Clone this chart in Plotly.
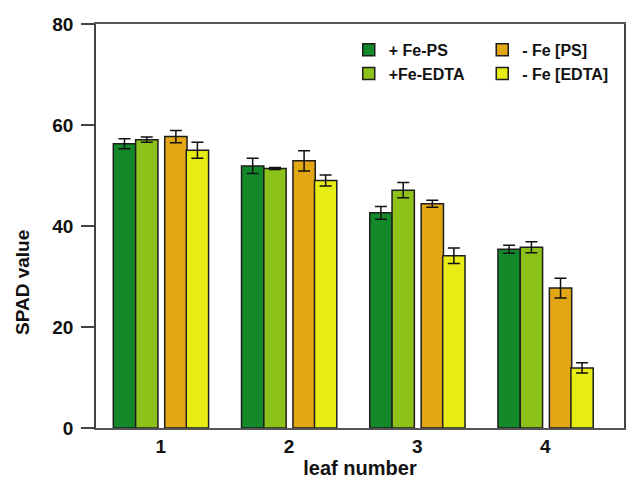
import plotly.graph_objects as go

leaves = ["1", "2", "3", "4"]
series_names = ["+ Fe-PS", "+Fe-EDTA", "- Fe [PS]", "- Fe [EDTA]"]
fe_ps = [56.3, 51.9, 42.6, 35.4]
fe_ps_err = [1.0, 1.5, 1.25, 0.8]
fe_edta = [57.1, 51.4, 47.1, 35.8]
fe_edta_err = [0.5, 0.2, 1.5, 1.1]
nofe_ps = [57.7, 52.9, 44.4, 27.7]
nofe_ps_err = [1.2, 2.0, 0.7, 1.95]
nofe_edta = [55.0, 49.0, 34.1, 11.9]
nofe_edta_err = [1.6, 1.1, 1.55, 1.0]

values = [fe_ps, fe_edta, nofe_ps, nofe_edta]
errors = [fe_ps_err, fe_edta_err, nofe_ps_err, nofe_edta_err]
colors = ["#13892a", "#8cc21a", "#e3a614", "#e6ec14"]
offsets = [-0.37, -0.196, 0.031, 0.199]
legends = ["legend", "legend", "legend2", "legend2"]

xpos = list(range(len(leaves)))
FONT = "Liberation Sans, Arial, sans-serif"

fig = go.Figure()
for name, v, e, c, off, lg in zip(series_names, values, errors, colors, offsets, legends):
    fig.add_trace(go.Bar(
        x=xpos, y=v, name=name,
        width=0.174, offset=off,
        marker=dict(color=c, line=dict(color="#1e1e1e", width=1.5)),
        error_y=dict(type="data", array=e, visible=True, color="#111111",
                     thickness=1.5, width=6),
        legend=lg,
    ))

legend_common = dict(
    font=dict(family=FONT, size=16, color="#111111", weight="bold"),
    bgcolor="rgba(0,0,0,0)", xanchor="left", yanchor="top",
    orientation="v", itemwidth=30, tracegroupgap=0,
)

fig.update_layout(
    width=627, height=479,
    margin=dict(l=96, r=1, t=24, b=51),
    paper_bgcolor="white", plot_bgcolor="white",
    barmode="overlay",
    showlegend=True,
    legend=dict(x=0.4787, y=0.978, **legend_common),
    legend2=dict(x=0.7315, y=0.978, **legend_common),
    font=dict(family=FONT, color="#111111"),
    xaxis=dict(
        range=[-0.505, 3.613],
        tickvals=xpos, ticktext=leaves,
        showgrid=False, zeroline=False,
        showline=True, linecolor="#555555", linewidth=1.5, mirror=True,
        ticks="",
        tickfont=dict(family=FONT, size=19, color="#111111", weight="bold"),
        title=dict(text="leaf number", standoff=3,
                   font=dict(family=FONT, size=20, color="#111111", weight="bold")),
    ),
    yaxis=dict(
        range=[0, 80], tickvals=[0, 20, 40, 60, 80],
        showgrid=False, zeroline=False,
        showline=True, linecolor="#444444", linewidth=1.5, mirror=True,
        ticks="outside", ticklen=13, tickwidth=1.5, tickcolor="#444444",
        ticklabelstandoff=4,
        tickfont=dict(family=FONT, size=19, color="#111111", weight="bold"),
    ),
    annotations=[dict(
        text="SPAD value", textangle=-90, showarrow=False,
        xref="paper", yref="paper", x=-0.1403, y=0.3613,
        xanchor="center", yanchor="middle",
        font=dict(family=FONT, size=19, color="#111111", weight="bold"),
    )],
)

fig.write_html("out.html")
